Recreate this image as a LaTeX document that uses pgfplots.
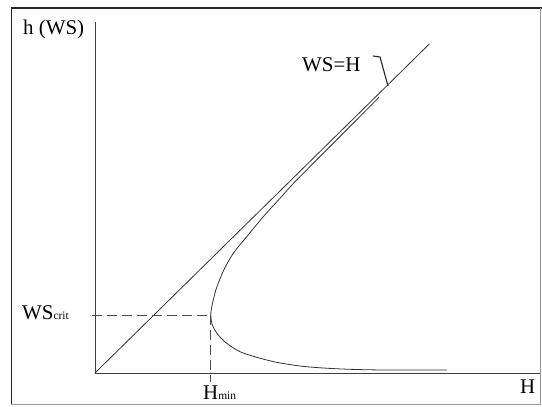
\documentclass[border=0pt]{standalone}
\usepackage{pgfplots}
\pgfplotsset{compat=1.18}
\usepackage{fontspec}
\setmainfont{Liberation Serif}

% specific energy curve h(H), drawn in bp units from the origin
\pgfplotstableread{
H      h
284    275.7
250    241.5
201.7  193
185    174.7
168.3  156.3
151.7  136.3
138.3  119.7
128.8  103
121.5  85
117.8  71
116.2  63
115.8  58
116.4  52
118.2  46
123.3  38
131.7  29.7
145    21.3
161.7  15.7
181.7  10.7
205    7
228.3  5
255    3.7
290    3
352    3
}\energycurve

\newcommand{\lbl}{\fontsize{21}{25}\selectfont}
\newcommand{\sublbl}{\fontsize{11.5}{13}\selectfont}

\begin{document}
\begin{tikzpicture}
\begin{axis}[
  x=1bp, y=1bp,
  xmin=0, xmax=445, ymin=0, ymax=351,
  scale only axis,
  axis lines=left,
  axis line style={-, line width=0.9bp, black!75},
  x axis line style={-}, y axis line style={-},
  xtick=\empty, ytick=\empty,
  clip=false,
]
  % WS = H line
  \addplot[line width=0.8bp, black!80] coordinates {(0,0) (334.3,329)};
  % energy curve
  \addplot[line width=0.8bp, black!80, smooth] table[x=H, y=h] {\energycurve};
  % critical depth and minimum energy
  \addplot[line width=0.8bp, black!70, dash pattern=on 10bp off 5bp]
    coordinates {(-3,58) (115.8,58)};
  \addplot[line width=0.8bp, black!70, dash pattern=on 10bp off 5bp]
    coordinates {(115.8,58) (115.8,-9)};
  % leader for the WS=H label
  \draw[line width=1.1bp, black!85] (axis cs:278,317) -- (axis cs:285,316) -- (axis cs:293,287);

  % labels
  \node[anchor=base west, inner sep=0pt, font=\lbl] at (axis cs:-72,338.5) {h (WS)};
  \node[anchor=base west, inner sep=0pt, font=\lbl] at (axis cs:207,301.3) {WS=H};
  \node[anchor=base west, inner sep=0pt, font=\lbl] at (axis cs:-73,54) {WS{\sublbl crit}};
  \node[anchor=base west, inner sep=0pt, font=\lbl] at (axis cs:108,-26) {H{\sublbl min}};
  \node[anchor=base west, inner sep=0pt, font=\lbl] at (axis cs:425,-20) {H};

  % outer frame
  \draw[line width=1.6bp, black!85] (axis cs:-83.5,-31.5) -- (axis cs:-83.5,365) -- (axis cs:447,365);
  \draw[line width=0.8bp, black!40] (axis cs:-83.5,-31.5) -- (axis cs:445,-31.5) -- (axis cs:445,365);

  \coordinate (bl) at (axis cs:-95,-33);
  \coordinate (tr) at (axis cs:447,373);
\end{axis}
\pgfresetboundingbox
\path[use as bounding box] (bl) rectangle (tr);
\end{tikzpicture}
\end{document}
